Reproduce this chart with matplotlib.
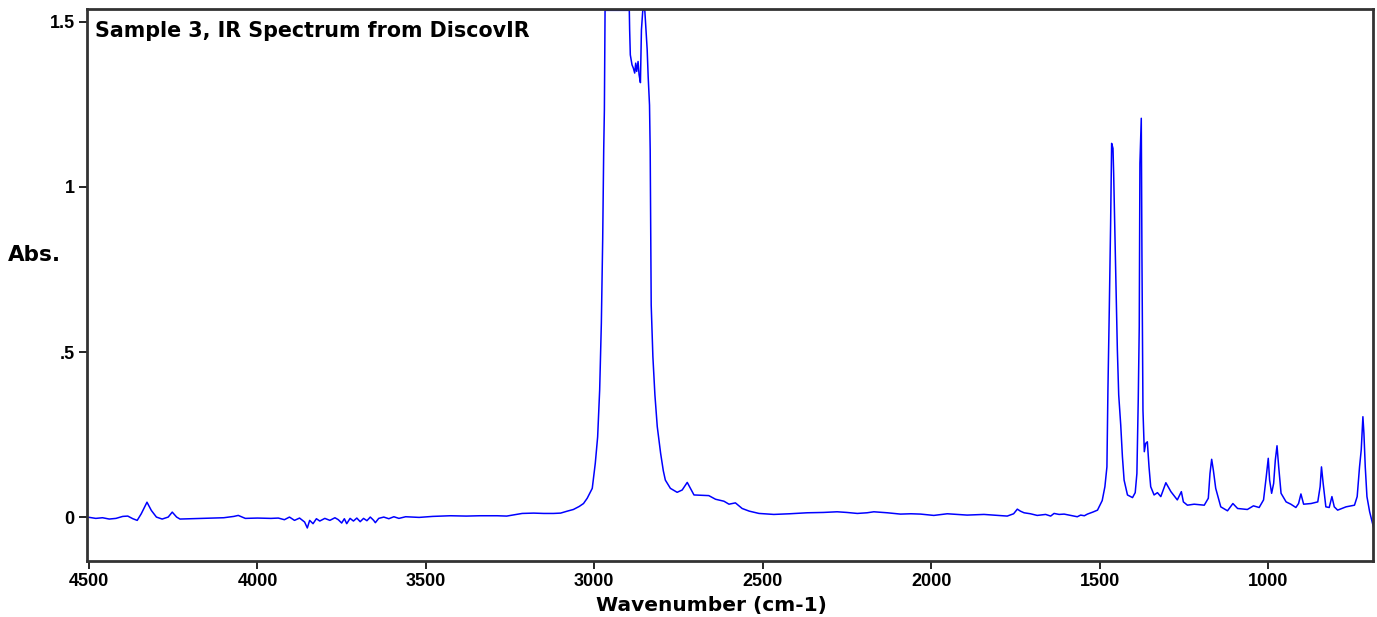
import matplotlib
matplotlib.use("Agg")
import matplotlib.pyplot as plt

# wavenumber (cm-1) and absorbance
wavenumber = [
    4505, 4480, 4460, 4440, 4420, 4400, 4385, 4370, 4357, 4345, 4328, 4315, 4300, 4283, 4265, 4253,
    4240, 4230, 4200, 4164, 4140, 4100, 4070, 4057, 4045, 4036, 4000, 3960, 3938, 3920, 3905, 3890,
    3875, 3860, 3852, 3845, 3835, 3825, 3815, 3800, 3785, 3770, 3760, 3750, 3742, 3735, 3725, 3715,
    3705, 3695, 3685, 3675, 3665, 3655, 3650, 3640, 3625, 3610, 3595, 3580, 3560, 3520, 3480, 3427,
    3380, 3340, 3288, 3260, 3230, 3214, 3180, 3150, 3121, 3100, 3080, 3062, 3045, 3032, 3021, 3011,
    3006, 2997, 2990, 2984, 2979, 2975, 2972, 2970, 2968, 2896, 2895, 2893, 2888, 2884, 2880, 2877,
    2874, 2870, 2867, 2863, 2860, 2856, 2850, 2848, 2843, 2840, 2836, 2834, 2833, 2831, 2826, 2820,
    2813, 2803, 2795, 2789, 2774, 2754, 2739, 2724, 2704, 2680, 2660, 2640, 2615, 2600, 2581, 2561,
    2540, 2511, 2467, 2420, 2368, 2320, 2279, 2250, 2219, 2190, 2170, 2130, 2091, 2060, 2031, 1992,
    1952, 1920, 1893, 1843, 1800, 1774, 1755, 1744, 1735, 1724, 1705, 1685, 1660, 1645, 1635, 1620,
    1605, 1585, 1566, 1556, 1545, 1536, 1520, 1506, 1492, 1484, 1478, 1475, 1471, 1467, 1464, 1460,
    1458, 1455, 1451, 1447, 1443, 1437, 1432, 1427, 1417, 1402, 1394, 1389, 1385, 1382, 1380, 1376,
    1374, 1371, 1367, 1363, 1358, 1353, 1348, 1338, 1328, 1318, 1303, 1288, 1269, 1257, 1251, 1239,
    1219, 1189, 1177, 1172, 1167, 1162, 1155, 1140, 1120, 1104, 1090, 1061, 1043, 1026, 1013, 1005,
    999, 995, 989, 983, 978, 973, 968, 961, 946, 932, 917, 909, 902, 894, 872, 852,
    845, 841, 836, 828, 818, 810, 803, 793, 768, 743, 735, 728, 723, 718, 715, 711,
    706, 698, 687,
]
absorbance = [
    0.000, -0.004, -0.002, -0.006, -0.004, 0.002, 0.003, -0.005, -0.010, 0.010, 0.045, 0.020, 0.000, -0.006, 0.000, 0.015,
    0.000, -0.006, -0.005, -0.004, -0.003, -0.002, 0.002, 0.005, 0.000, -0.004, -0.003, -0.004, -0.003, -0.008, 0.000, -0.010,
    -0.003, -0.015, -0.033, -0.010, -0.020, -0.005, -0.012, -0.004, -0.010, -0.002, -0.008, -0.018, -0.005, -0.020, -0.004, -0.012,
    -0.003, -0.014, -0.004, -0.011, 0.000, -0.010, -0.017, -0.004, 0.000, -0.005, 0.001, -0.004, 0.001, -0.001, 0.002, 0.004,
    0.003, 0.004, 0.004, 0.003, 0.008, 0.011, 0.012, 0.011, 0.011, 0.012, 0.018, 0.023, 0.032, 0.041, 0.057, 0.077,
    0.087, 0.163, 0.243, 0.385, 0.587, 0.842, 1.112, 1.233, 1.535, 1.535, 1.476, 1.400, 1.370, 1.360, 1.345, 1.375,
    1.350, 1.380, 1.340, 1.316, 1.476, 1.535, 1.535, 1.500, 1.417, 1.334, 1.248, 1.112, 0.955, 0.642, 0.486, 0.370,
    0.274, 0.193, 0.140, 0.112, 0.087, 0.075, 0.082, 0.105, 0.067, 0.066, 0.065, 0.054, 0.048, 0.039, 0.043, 0.026,
    0.018, 0.011, 0.008, 0.010, 0.013, 0.014, 0.016, 0.014, 0.011, 0.013, 0.016, 0.013, 0.009, 0.010, 0.009, 0.005,
    0.010, 0.008, 0.006, 0.008, 0.005, 0.003, 0.010, 0.024, 0.018, 0.013, 0.010, 0.005, 0.008, 0.003, 0.011, 0.008,
    0.009, 0.005, 0.001, 0.006, 0.004, 0.009, 0.015, 0.021, 0.050, 0.092, 0.152, 0.385, 0.627, 0.890, 1.132, 1.117,
    1.041, 0.890, 0.698, 0.506, 0.370, 0.279, 0.183, 0.112, 0.067, 0.059, 0.074, 0.132, 0.355, 0.577, 1.072, 1.208,
    0.789, 0.324, 0.198, 0.223, 0.228, 0.152, 0.092, 0.067, 0.074, 0.062, 0.104, 0.077, 0.052, 0.077, 0.046, 0.036,
    0.039, 0.036, 0.057, 0.132, 0.175, 0.142, 0.087, 0.031, 0.019, 0.041, 0.026, 0.023, 0.034, 0.029, 0.052, 0.122,
    0.178, 0.112, 0.072, 0.102, 0.173, 0.216, 0.152, 0.072, 0.046, 0.039, 0.029, 0.041, 0.070, 0.039, 0.041, 0.046,
    0.092, 0.152, 0.102, 0.031, 0.029, 0.062, 0.031, 0.021, 0.031, 0.036, 0.062, 0.152, 0.203, 0.304, 0.254, 0.152,
    0.062, 0.016, -0.029,
]

x_ticks = [4500, 4000, 3500, 3000, 2500, 2000, 1500, 1000]
y_ticks = [0, 0.5, 1, 1.5]
y_tick_labels = ["0", ".5", "1", "1.5"]

plt.rcParams["font.family"] = ["Liberation Sans", "DejaVu Sans"]
plt.rcParams["font.weight"] = "bold"
wide = ["DejaVu Sans"]

fig = plt.figure(figsize=(13.77, 6.17), dpi=100)
ax = fig.add_axes([0.0632, 0.0908, 0.9339, 0.8946])

ax.plot(wavenumber, absorbance, color="#0000ff", linewidth=1.1)

ax.set_xlim(4506, 688)
ax.set_ylim(-0.133, 1.539)
ax.set_xticks(x_ticks)
ax.set_yticks(y_ticks)
ax.set_yticklabels(y_tick_labels)
ax.tick_params(axis="both", direction="out", length=6, width=1.2, labelsize=13, pad=3)
for lab in ax.get_xticklabels() + ax.get_yticklabels():
    lab.set_fontweight("bold")
    lab.set_family(["Liberation Sans"])

for s in ax.spines.values():
    s.set_linewidth(2)
    s.set_color("#333333")

ax.text(0.006, 0.978, "Sample 3, IR Spectrum from DiscovIR", transform=ax.transAxes,
        fontsize=14.9, fontweight="bold", family=wide, va="top", ha="left")
fig.text(0.006, 0.587, "Abs.", fontsize=15.5, fontweight="bold", family=wide, va="center", ha="left")
fig.text(711 / 1377, (617 - 605) / 617, "Wavenumber (cm-1)", fontsize=14.5, fontweight="bold",
         family=wide, va="center", ha="center")

fig.savefig("out.png", dpi=100)
